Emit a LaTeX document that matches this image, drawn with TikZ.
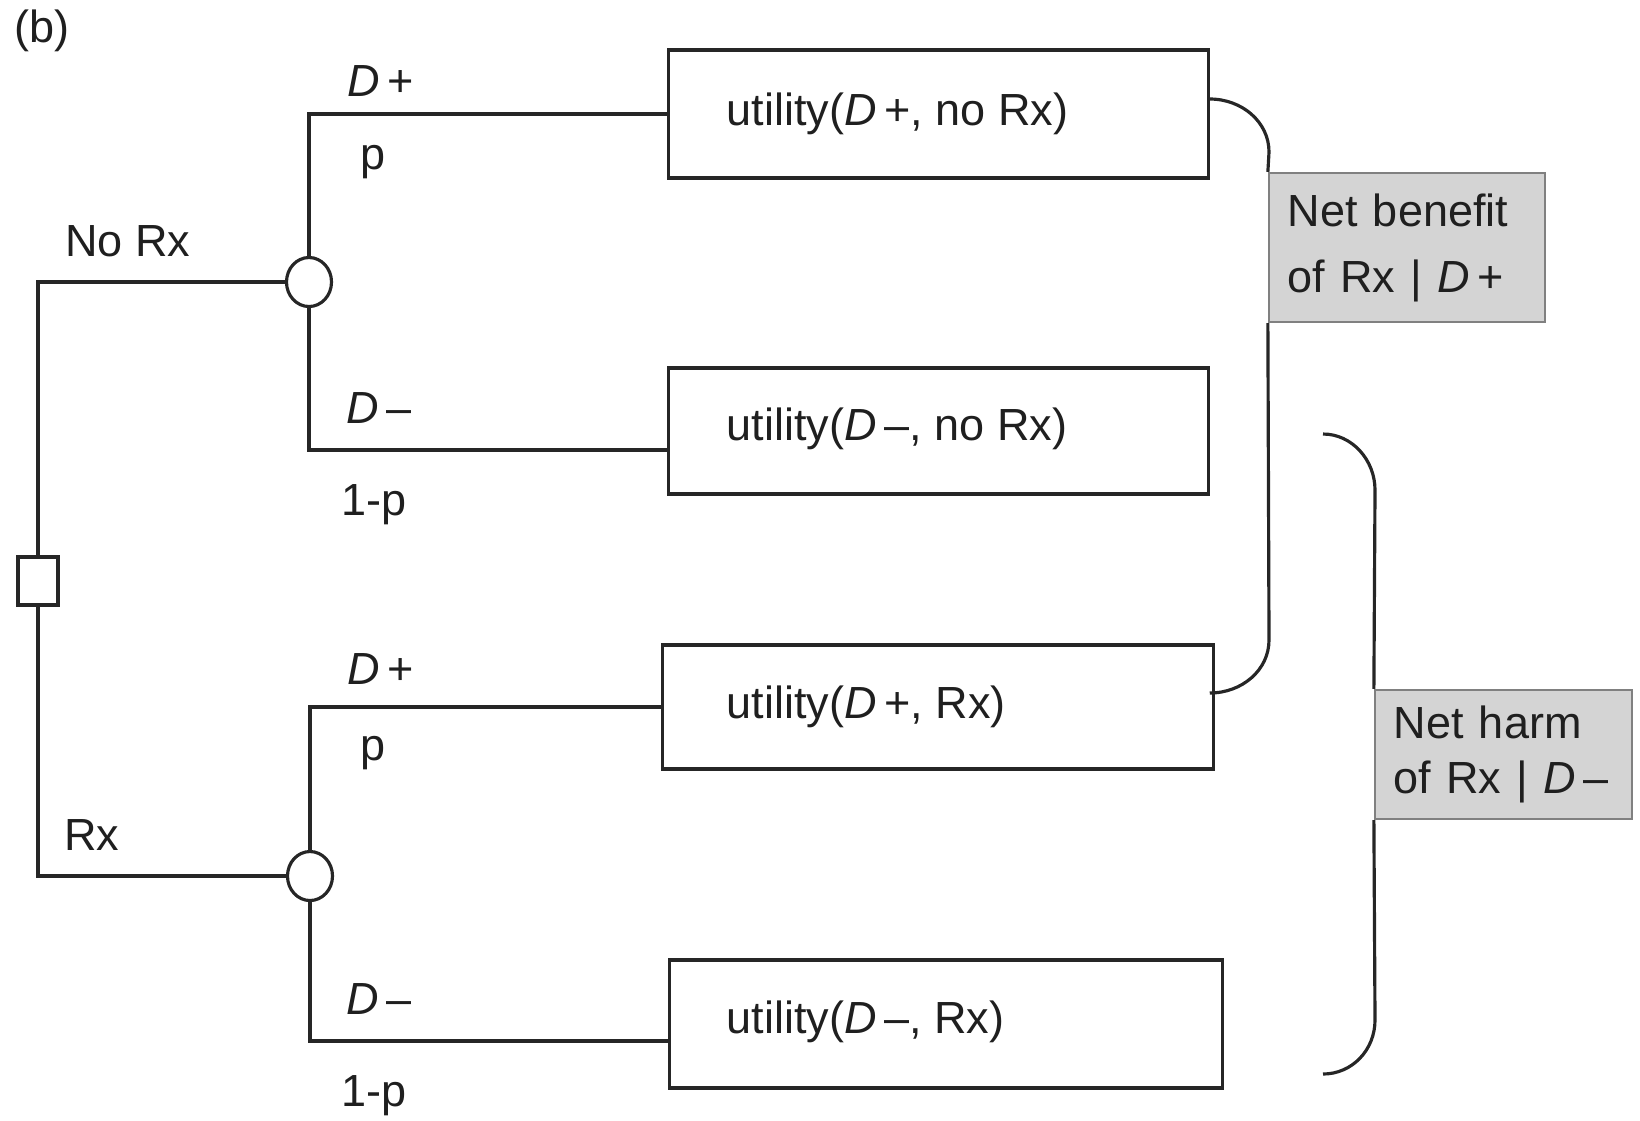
\documentclass[tikz,border=0pt]{standalone}
\usepackage{fontspec}
\setmainfont{Liberation Sans}
\usetikzlibrary{shapes.geometric}
\begin{document}
\begin{tikzpicture}[x=0.01cm,y=-0.01cm,line width=0.9pt,draw=black!85,
  font=\fontsize{12.8}{15.4}\selectfont,
  every node/.style={text=black!88},
  ubox/.style={draw=black!85,rectangle,inner sep=0pt},
  chance/.style={draw=black!85,ellipse,minimum width=0.45cm,minimum height=0.49cm,inner sep=0pt},
  decision/.style={draw=black!85,rectangle,minimum width=0.40cm,minimum height=0.48cm,inner sep=0pt},
  lab/.style={draw=black!50,fill=black!17,line width=0.6pt,align=left,inner xsep=0.19cm,inner ysep=0pt},
  txt/.style={inner sep=0pt,anchor=west},
  lbl/.style={inner sep=0pt}]
\useasboundingbox (0,0) rectangle (1640,1120);

\node[lbl] (b) at (42,31) {(b)};

\node[decision] (d) at (38,581) {};
\node[chance] (c1) at (309,282) {};
\node[chance] (c2) at (310,876) {};

\node[ubox,minimum width=5.39cm,minimum height=1.28cm] (u1) at (938.5,114) {};
\node[ubox,minimum width=5.39cm,minimum height=1.26cm] (u2) at (938.5,431) {};
\node[ubox,minimum width=5.50cm,minimum height=1.24cm] (u3) at (938,707) {};
\node[ubox,minimum width=5.52cm,minimum height=1.28cm] (u4) at (946,1024) {};

\node[txt] (t1) at ([xshift=0.58cm]u1.west) {utility(\textit{D}\,+, no Rx)};
\node[txt] (t2) at ([xshift=0.58cm,yshift=0.02cm]u2.west) {utility(\textit{D}\,–, no Rx)};
\node[txt] (t3) at ([xshift=0.64cm]u3.west) {utility(\textit{D}\,+, Rx)};
\node[txt] (t4) at ([xshift=0.57cm,yshift=0.02cm]u4.west) {utility(\textit{D}\,–, Rx)};

\draw (d.north) |- (c1.west);
\draw (d.south) |- (c2.west);
\draw (c1.north) |- (u1.west);
\draw (c1.south) |- ([yshift=-0.19cm]u2.west);
\draw (c2.north) |- (u3.west);
\draw (c2.south) |- ([yshift=-0.17cm]u4.west);

\node[lbl] (dp1) at (381,81) {\textit{D}\,+};
\node[lbl] (p1) at (373,162) {p};
\node[lbl] (norx) at (128,241) {No Rx};
\node[lbl] (dm1) at (379,408) {\textit{D}\,–};
\node[lbl] (q1) at (374,505) {1-p};
\node[lbl] (dp2) at (381,669) {\textit{D}\,+};
\node[lbl] (p2) at (373,753) {p};
\node[lbl] (rx) at (92,835) {Rx};
\node[lbl] (dm2) at (379,999) {\textit{D}\,–};
\node[lbl] (q2) at (374,1096) {1-p};

\node[lab,minimum width=2.76cm,minimum height=1.49cm,text width=2.38cm] (n1) at (1407,247.5)
  {\raisebox{-3pt}{\parbox{2.38cm}{Net benefit\\[3.4pt]of Rx | \textit{D}\,+}}};
\node[lab,minimum width=2.57cm,minimum height=1.29cm,text width=2.19cm] (n2) at (1503.5,754.5)
  {\raisebox{-4pt}{\parbox{2.19cm}{Net harm\\of Rx | \textit{D}\,–}}};

\draw ([yshift=0.15cm]u1.east) .. controls (1242,99) and (1269,122) .. (1269,152) -- (n1.north west);
\draw (n1.south west) -- (1269,640) .. controls (1269,670) and (1242,693) .. ([xshift=-0.05cm,yshift=0.14cm]u3.east);

\coordinate (br2a) at (1323,434);
\coordinate (br2b) at (1323,1074);
\draw (br2a) .. controls (1352,434) and (1375,460) .. (1375,490) -- (n2.north west);
\draw (n2.south west) -- (1375,1020) .. controls (1375,1050) and (1352,1074) .. (br2b);
\end{tikzpicture}
\end{document}
